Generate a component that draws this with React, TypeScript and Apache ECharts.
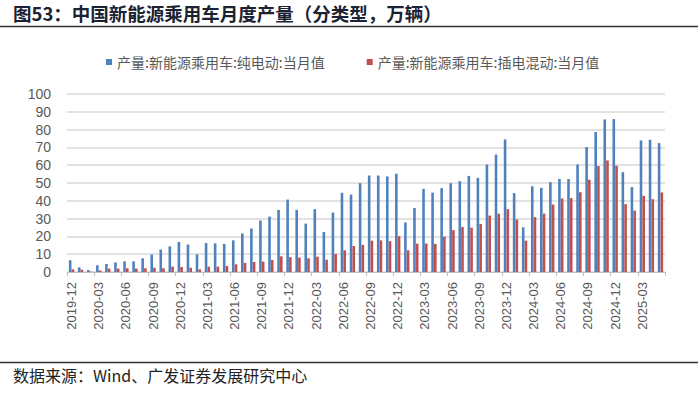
import React, { useEffect, useRef } from "react";
import * as echarts from "echarts";

const startYear = 2019;
const startMonth = 12;
const monthCount = 66;
const categories: string[] = [];
for (let i = 0; i < monthCount; i++) {
  const m0 = startMonth - 1 + i;
  const y = startYear + Math.floor(m0 / 12);
  const m = (m0 % 12) + 1;
  categories.push(`${y}-${m < 10 ? "0" + m : m}`);
}

const bevValues = [
  6.6, 2.6, 1.1, 3.8, 4.5, 5.4, 6.0, 6.0, 7.7, 9.8, 12.6, 14.4, 16.9, 15.4, 9.9, 16.3, 16.1, 15.8, 17.8,
  21.6, 24.4, 28.9, 31.1, 34.9, 40.7, 34.9, 27.2, 35.3, 22.5, 33.4, 44.5, 43.5, 49.9, 54.2, 54.2, 53.7,
  55.2, 27.8, 36.0, 46.7, 44.6, 47.1, 49.9, 51.0, 54.0, 52.9, 60.4, 66.0, 74.5, 44.3, 25.1, 48.2, 47.3,
  50.5, 52.3, 52.2, 60.4, 70.2, 78.6, 85.7, 85.9, 56.1, 47.7, 73.9, 74.3, 72.4,
];

const phevValues = [
  1.5, 1.3, 0.2, 0.9, 1.9, 1.9, 2.1, 1.9, 2.1, 2.4, 2.1, 3.0, 2.8, 2.4, 1.5, 3.0, 3.0, 3.4, 4.3, 5.1,
  5.6, 5.8, 6.8, 8.8, 8.3, 8.1, 7.7, 8.6, 6.9, 10.1, 12.2, 14.6, 15.2, 17.6, 17.8, 17.3, 20.1, 12.2,
  15.9, 16.0, 15.8, 19.9, 23.5, 25.3, 24.9, 27.0, 31.7, 32.8, 35.3, 29.5, 17.6, 30.8, 32.8, 37.9, 41.3,
  41.5, 44.8, 51.8, 59.5, 62.7, 59.7, 38.1, 34.5, 42.8, 40.9, 44.7,
];

const seriesNames = ["产量:新能源乘用车:纯电动:当月值", "产量:新能源乘用车:插电混动:当月值"];
const titleText = "图53：中国新能源乘用车月度产量（分类型，万辆）";
const sourceText = "数据来源：Wind、广发证券发展研究中心";

const CJK = "'Noto Sans CJK SC', 'Noto Sans', sans-serif";
const LAT = "'Liberation Sans', Arial, sans-serif";

export default function App() {
  const ref = useRef<HTMLDivElement>(null);
  useEffect(() => {
    if (!ref.current) return;
    const chart = echarts.init(ref.current, undefined, { renderer: "svg" });
    chart.setOption({
      animation: false,
      backgroundColor: "#ffffff",
      legend: {
        top: 50,
        left: 101,
        icon: "rect",
        itemWidth: 6,
        itemHeight: 6,
        itemGap: 42,
        textStyle: { fontFamily: CJK, fontSize: 14, color: "#595959" },
        data: seriesNames,
      },
      grid: { left: 67, right: 35, top: 94, bottom: 122, containLabel: false },
      xAxis: {
        type: "category",
        data: categories,
        boundaryGap: true,
        axisLine: { show: true, lineStyle: { color: "#bfbfbf", width: 1 } },
        axisTick: { show: true, interval: 2, length: 4, lineStyle: { color: "#bfbfbf" } },
        axisLabel: {
          interval: 2,
          rotate: 90,
          fontSize: 13,
          color: "#595959",
          fontFamily: LAT,
          margin: 10,
        },
      },
      yAxis: {
        type: "value",
        min: 0,
        max: 100,
        interval: 10,
        axisLine: { show: false },
        axisTick: { show: false },
        axisLabel: { fontSize: 14, color: "#595959", fontFamily: LAT, margin: 16 },
        splitLine: { lineStyle: { color: "#d9d9d9", width: 1.5 } },
      },
      series: [
        {
          name: seriesNames[0],
          type: "bar",
          data: bevValues,
          barWidth: 2.6,
          barGap: "5%",
          itemStyle: { color: "#4f81bd" },
        },
        {
          name: seriesNames[1],
          type: "bar",
          data: phevValues,
          barWidth: 2.6,
          barGap: "5%",
          itemStyle: { color: "#c0504d" },
        },
      ],
      graphic: [
        {
          type: "text",
          left: 13,
          top: 4,
          style: {
            text: titleText,
            font: `bold 18.5px ${CJK}`,
            fill: "#1a2233",
          },
        },
        {
          type: "line",
          shape: { x1: 0, y1: 26.5, x2: 698, y2: 26.5 },
          style: { stroke: "#333333", lineWidth: 1.5 },
        },
        {
          type: "line",
          shape: { x1: 0, y1: 362.5, x2: 698, y2: 362.5 },
          style: { stroke: "#333333", lineWidth: 1.5 },
        },
        {
          type: "text",
          left: 13,
          top: 367,
          style: {
            text: sourceText,
            font: `16px ${CJK}`,
            fill: "#222222",
          },
        },
      ],
    });
    return () => chart.dispose();
  }, []);
  return <div ref={ref} style={{ width: 700, height: 394, position: "absolute", left: 0, top: 0 }} />;
}
